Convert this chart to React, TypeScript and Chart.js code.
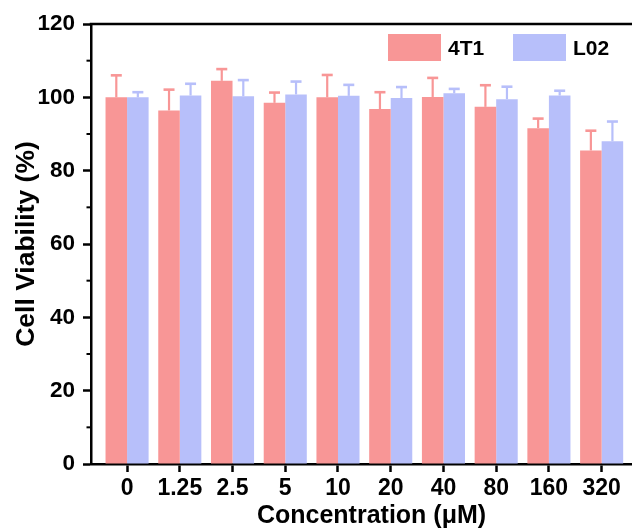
import React, { useEffect, useRef } from "react";
import { Chart, registerables } from "chart.js";

Chart.register(...registerables);

const categories = ["0", "1.25", "2.5", "5", "10", "20", "40", "80", "160", "320"];
const viability4T1 = [100.0, 96.4, 104.5, 98.5, 100.0, 96.8, 100.1, 97.4, 91.6, 85.5];
const error4T1 = [6.0, 5.7, 3.2, 2.8, 6.1, 4.6, 5.2, 5.9, 2.6, 5.4];
const viabilityL02 = [100.0, 100.5, 100.3, 100.8, 100.4, 99.8, 101.1, 99.5, 100.5, 88.0];
const errorL02 = [1.4, 3.2, 4.4, 3.5, 3.0, 3.0, 1.2, 3.4, 1.3, 5.4];
const seriesNames = ["4T1", "L02"];
const yMajorTicks = [0, 20, 40, 60, 80, 100, 120];
const yMinorTicks = [10, 30, 50, 70, 90, 110];

const PINK = "rgb(248,150,150)";
const BLUE = "rgb(183,191,250)";
const FONT = '"Liberation Sans", Arial, Helvetica, sans-serif';

const errorBarPlugin = {
  id: "errorBars",
  afterDatasetsDraw(chart: any) {
    const ctx = chart.ctx;
    const y = chart.scales.y;
    chart.data.datasets.forEach((ds: any, di: number) => {
      const meta = chart.getDatasetMeta(di);
      meta.data.forEach((bar: any, i: number) => {
        const v = ds.data[i].y;
        const top = y.getPixelForValue(v + ds.errors[i]);
        ctx.save();
        ctx.strokeStyle = ds.backgroundColor;
        ctx.lineWidth = 2.2;
        ctx.beginPath();
        ctx.moveTo(bar.x, bar.y);
        ctx.lineTo(bar.x, top);
        ctx.stroke();
        ctx.lineWidth = 2.6;
        ctx.beginPath();
        ctx.moveTo(bar.x - 5.5, top);
        ctx.lineTo(bar.x + 5.5, top);
        ctx.stroke();
        ctx.restore();
      });
    });
  },
};

const framePlugin = {
  id: "frameAndLegend",
  afterDraw(chart: any) {
    const ctx = chart.ctx;
    const { left, right, top } = chart.chartArea;
    const y = chart.scales.y;
    ctx.save();
    ctx.strokeStyle = "#000";
    ctx.lineWidth = 2.5;
    ctx.beginPath();
    ctx.moveTo(left - 1.25, top);
    ctx.lineTo(right, top);
    ctx.stroke();
    // minor ticks
    ctx.lineWidth = 2;
    yMinorTicks.forEach((t) => {
      const py = y.getPixelForValue(t);
      ctx.beginPath();
      ctx.moveTo(left - 4.5, py);
      ctx.lineTo(left, py);
      ctx.stroke();
    });
    // legend
    const items = chart.data.datasets;
    const boxX = [388, 513];
    items.forEach((ds: any, i: number) => {
      ctx.fillStyle = ds.backgroundColor;
      ctx.fillRect(boxX[i], 34, 53, 27);
      ctx.fillStyle = "#000";
      ctx.font = `bold 21px ${FONT}`;
      ctx.textBaseline = "middle";
      ctx.textAlign = "left";
      ctx.fillText(ds.label, boxX[i] + 60, 49);
    });
    ctx.restore();
  },
};

export default function App() {
  const ref = useRef<HTMLCanvasElement>(null);
  useEffect(() => {
    if (!ref.current) return;
    const chart = new Chart(ref.current, {
      type: "bar",
      data: {
        datasets: [
          {
            label: seriesNames[0],
            data: viability4T1.map((v, i) => ({ x: i, y: v })),
            backgroundColor: PINK,
            errors: error4T1,
          } as any,
          {
            label: seriesNames[1],
            data: viabilityL02.map((v, i) => ({ x: i, y: v })),
            backgroundColor: BLUE,
            errors: errorL02,
          } as any,
        ],
      },
      options: {
        animation: false,
        responsive: false,
        devicePixelRatio: 1,
        events: [],
        layout: { padding: { left: 0, top: 24, right: 0, bottom: 0 } },
        datasets: { bar: { categoryPercentage: 0.817, barPercentage: 1 } },
        plugins: { legend: { display: false }, tooltip: { enabled: false } },
        scales: {
          x: {
            type: "linear",
            offset: false,
            min: -0.684,
            max: 9.955,
            afterBuildTicks: (scale: any) => {
              scale.ticks = categories.map((_, i) => ({ value: i }));
            },
            afterFit: (scale: any) => {
              scale.height = 67;
            },
            ticks: {
              callback: (v: any) => categories[Math.round(Number(v))] ?? "",
              color: "#000",
              font: { family: FONT, size: 23, weight: "bold" },
              padding: 3,
              maxRotation: 0,
              autoSkip: false,
            },
            grid: {
              display: true,
              drawOnChartArea: false,
              offset: false,
              drawTicks: true,
              tickLength: 8,
              tickWidth: 2.5,
              tickColor: "#000",
            },
            border: { display: true, color: "#000", width: 2.5 },
            title: {
              display: true,
              text: "Concentration (μM)",
              color: "#000",
              font: { family: FONT, size: 25, weight: "bold" },
              padding: { top: 0, bottom: 0 },
            },
          },
          y: {
            type: "linear",
            min: 0,
            max: 120,
            afterBuildTicks: (scale: any) => {
              scale.ticks = yMajorTicks.map((v) => ({ value: v }));
            },
            afterFit: (scale: any) => {
              scale.width = 91;
            },
            ticks: {
              color: "#000",
              font: { family: FONT, size: 22.5, weight: "bold" },
              padding: 8,
            },
            grid: {
              display: true,
              drawOnChartArea: false,
              drawTicks: true,
              tickLength: 8,
              tickWidth: 2.5,
              tickColor: "#000",
            },
            border: { display: true, color: "#000", width: 2.5 },
            title: {
              display: true,
              text: "Cell Viability (%)",
              color: "#000",
              font: { family: FONT, size: 26.5, weight: "bold" },
              padding: { top: 11, bottom: 0 },
            },
          },
        },
      } as any,
      plugins: [errorBarPlugin, framePlugin],
    });
    return () => chart.destroy();
  }, []);
  return (
    <div
      style={{
        position: "fixed",
        left: 0,
        top: 0,
        width: 632,
        height: 531,
        overflow: "hidden",
        background: "#fff",
      }}
    >
      <canvas ref={ref} width={652} height={531} style={{ display: "block" }} />
    </div>
  );
}
